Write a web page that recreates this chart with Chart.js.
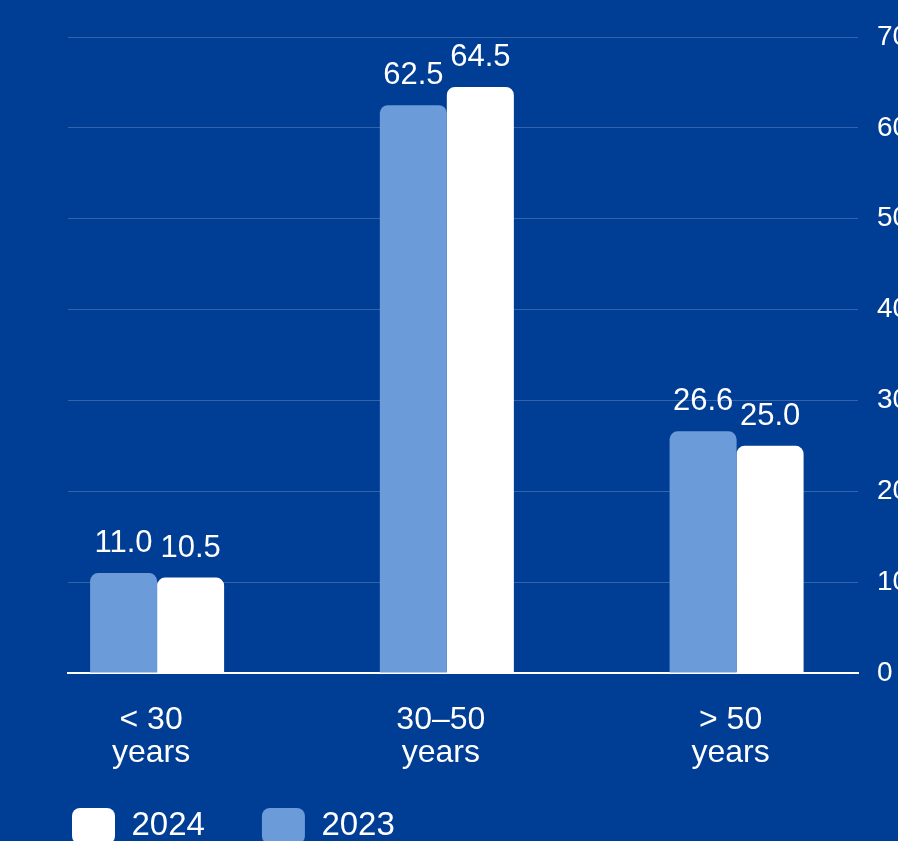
<!DOCTYPE html>
<html><head><meta charset="utf-8">
<script src="https://cdn.jsdelivr.net/npm/chart.js@4/dist/chart.umd.min.js"></script>
<style>html,body{margin:0;padding:0;background:#003d95;overflow:hidden}canvas{display:block}</style>
</head><body>
<canvas id="c" width="898" height="841"></canvas>
<script>
const categories = ['< 30 years', '30–50 years', '> 50 years'];
const seriesNames = ['2023', '2024'];
const values2023 = [11.0, 62.5, 26.6];
const values2024 = [10.5, 64.5, 25.0];
const yTickStep = 10;
const yMax = 70;

const BG = '#003d95';
const LIGHT = '#6b9bd9';
const FONT = "'Liberation Sans', Arial, sans-serif";

Chart.defaults.font.family = FONT;
Chart.defaults.font.size = 30;
Chart.defaults.color = '#ffffff';

const bgPlugin = {
  id: 'bg',
  beforeDraw(chart){
    const ctx = chart.ctx;
    ctx.save(); ctx.fillStyle = BG; ctx.fillRect(0, 0, chart.width, chart.height); ctx.restore();
  }
};

const legendPlace = {
  id: 'legendPlace',
  afterLayout(chart){
    const lg = chart.legend; if (!lg) return;
    const pad = lg.options.labels.padding;
    lg.left = 72 - pad; lg.right = chart.width;
    lg.top = 808 - pad; lg.bottom = chart.height;
    lg.width = lg.right - lg.left; lg.height = lg.bottom - lg.top;
  }
};

const valueLabels = {
  id: 'valueLabels',
  afterDatasetsDraw(chart){
    const ctx = chart.ctx;
    ctx.save();
    ctx.font = '31px ' + FONT;
    ctx.fillStyle = '#ffffff';
    ctx.textAlign = 'center';
    ctx.textBaseline = 'alphabetic';
    chart.data.datasets.forEach((ds, di) => {
      const meta = chart.getDatasetMeta(di);
      meta.data.forEach((bar, i) => {
        ctx.fillText(ds.data[i].y.toFixed(1), bar.x, bar.y - 21);
      });
    });
    ctx.restore();
  }
};

const toPoints = arr => arr.map((v, i) => ({x: i, y: v}));

new Chart(document.getElementById('c'), {
  type: 'bar',
  data: {
    datasets: [
      {label: seriesNames[0], data: toPoints(values2023), backgroundColor: LIGHT, borderWidth: 0, borderRadius: 8,
       categoryPercentage: 0.4625, barPercentage: 1},
      {label: seriesNames[1], data: toPoints(values2024), backgroundColor: '#ffffff', borderWidth: 0, borderRadius: 8,
       categoryPercentage: 0.4625, barPercentage: 1}
    ]
  },
  options: {
    responsive: false,
    animation: false,
    devicePixelRatio: 1,
    layout: {padding: {top: 37, left: 68, right: 0, bottom: 0}},
    scales: {
      x: {
        type: 'linear', min: -0.3075, max: 2.419, offset: false, bounds: 'data',
        grid: {display: false},
        border: {display: true, color: '#ffffff', width: 2},
        afterBuildTicks: s => { s.ticks = categories.map((_, i) => ({value: i})); },
        afterFit: s => { s.height = 108; },
        ticks: {
          padding: 23, autoSkip: false, maxRotation: 0, minRotation: 0, labelOffset: -6,
          font: {size: 32, lineHeight: 1.02},
          callback: v => {
            const t = categories[v];
            if (!t) return '';
            const k = t.lastIndexOf(' ');
            return [t.slice(0, k), t.slice(k + 1)];
          }
        }
      },
      y: {
        position: 'right', min: 0, max: yMax,
        ticks: {stepSize: yTickStep, padding: 19, font: {size: 28}},
        grid: {color: 'rgba(255,255,255,0.2)', drawTicks: false, lineWidth: 1},
        border: {display: false},
        afterFit: s => { s.width = 40; }
      }
    },
    plugins: {
      legend: {
        position: 'bottom', align: 'start', reverse: true, maxHeight: 60,
        labels: {boxWidth: 43, boxHeight: 36, useBorderRadius: true, borderRadius: 8, padding: 57,
                 color: '#ffffff', font: {size: 33}}
      },
      tooltip: {enabled: false}
    }
  },
  plugins: [bgPlugin, legendPlace, valueLabels]
});
</script>
</body></html>
